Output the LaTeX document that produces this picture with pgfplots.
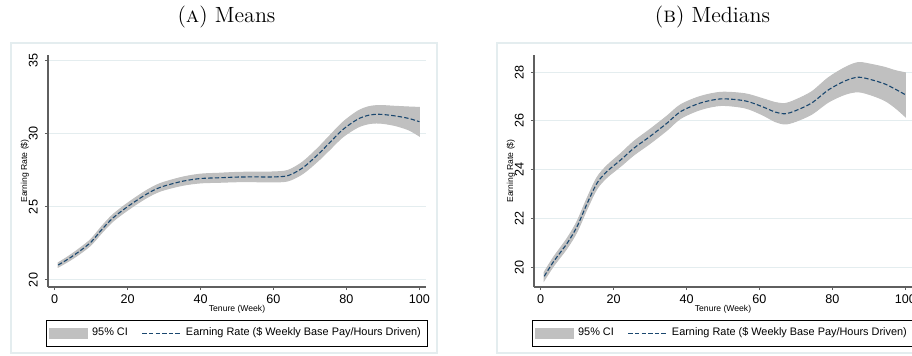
\documentclass[border=0pt]{standalone}
\usepackage{fontspec}
\newfontfamily\arial{Liberation Sans}
\usepackage{pgfplots}
\pgfplotsset{compat=1.18}
\usepackage{pgfplotstable}
\usepgfplotslibrary{fillbetween}

\definecolor{ciGray}{RGB}{192,192,192}
\definecolor{navy}{RGB}{26,71,111}
\definecolor{ltgrid}{RGB}{228,237,239}
\definecolor{axgray}{RGB}{95,95,95}

% week, estimate, half-width of 95% CI
\pgfplotstableread{
x y h
1 21.03 0.15
4 21.48 0.17
7 22.00 0.19
10 22.60 0.20
13 23.47 0.22
16 24.25 0.23
20 25.02 0.24
25 25.85 0.25
29 26.35 0.26
35 26.76 0.28
40 26.95 0.30
45 27.00 0.31
50 27.05 0.32
55 27.06 0.33
60 27.06 0.34
64 27.15 0.36
68 27.68 0.40
72 28.55 0.44
75 29.30 0.47
79 30.30 0.50
83 31.00 0.55
86 31.28 0.58
89 31.35 0.60
93 31.25 0.65
97 31.07 0.78
100 30.84 0.98
}\means

\pgfplotstableread{
x y h
1 19.62 0.17
3.6 20.23 0.18
7.3 20.98 0.20
10 21.66 0.21
12.8 22.62 0.22
15.5 23.45 0.23
18.2 23.92 0.24
22 24.40 0.26
25.6 24.88 0.28
30 25.36 0.29
34.7 25.91 0.29
38.4 26.38 0.28
43.8 26.73 0.27
49.5 26.90 0.27
56 26.82 0.29
60.6 26.59 0.33
64.3 26.36 0.39
67 26.29 0.42
69.8 26.41 0.44
74.3 26.73 0.46
78.9 27.27 0.50
83.5 27.64 0.55
87.1 27.79 0.60
90.8 27.68 0.63
94.4 27.51 0.68
97.2 27.30 0.76
100 27.07 0.90
}\medians

\pgfplotsset{stataax/.style={
  scale only axis, width=189pt, height=116pt,
  axis lines*=left,
  axis line style={axgray, line width=0.6pt},
  xmin=-1.8, xmax=101.8,
  xtick={0,20,...,100},
  tick align=outside, major tick length=1.6pt,
  tick style={axgray, line width=0.5pt},
  ymajorgrids, grid style={ltgrid, line width=0.5pt},
  /pgf/number format/assume math mode=true,
  ticklabel style={font=\arial\fontsize{6.3}{7}\selectfont},
  xticklabel style={yshift=1.5pt},
  yticklabel style={rotate=90, anchor=south},
  xlabel={Tenure (Week)}, ylabel={Earning Rate (\$)},
  label style={font=\arial\fontsize{4.3}{5}\selectfont},
  xlabel style={at={(axis description cs:0.5,-0.098)}, anchor=center},
  ylabel style={at={(axis description cs:-0.061,0.5)}, anchor=center},
  legend columns=2,
  legend style={at={(axis description cs:0.5,-0.142)}, anchor=north,
    draw=black, line width=0.5pt, font=\arial\fontsize{5.45}{6}\selectfont,
    inner xsep=1.2pt, inner ysep=1.7pt,
    /tikz/every even column/.append style={column sep=5pt}},
}}

\begin{document}
\begin{tikzpicture}
\draw[ltgrid, line width=0.6pt] (5.5pt,1pt) rectangle (218.5pt,156pt);
\draw[ltgrid, line width=0.6pt] (248.5pt,1pt) rectangle (461.5pt,156pt);
\node at (113.25pt,169pt) {\fontsize{11}{13}\selectfont (\textsc{a}) Means};
\node at (356.25pt,169pt) {\fontsize{11}{13}\selectfont (\textsc{b}) Medians};

\begin{axis}[stataax, at={(24pt,34pt)}, anchor=south west,
  ymin=19.52, ymax=35.41, ytick={20,25,30,35}]
  \addplot[draw=none, name path=up, forget plot, smooth] table[x=x, y expr=\thisrow{y}+\thisrow{h}] {\means};
  \addplot[draw=none, name path=lo, forget plot, smooth] table[x=x, y expr=\thisrow{y}-\thisrow{h}] {\means};
  \addplot[fill=ciGray, draw=ciGray, line width=0.5pt,
    legend image code/.code={\fill[ciGray] (0pt,-2.6pt) rectangle (19pt,2.6pt);}]
    fill between[of=up and lo];
  \addlegendentry{95\% CI}
  \addplot[navy, line width=0.55pt, dash pattern=on 2.2pt off 1.1pt, smooth,
    legend image code/.code={\draw[navy, line width=0.55pt, dash pattern=on 2.2pt off 1.1pt] (0pt,0pt) -- (19.5pt,0pt);}]
    table[x=x, y=y] {\means};
  \addlegendentry{Earning Rate (\$ Weekly Base Pay/Hours Driven)}
\end{axis}

\begin{axis}[stataax, at={(267pt,34pt)}, anchor=south west,
  ymin=19.18, ymax=28.70, ytick={20,22,24,26,28}]
  \addplot[draw=none, name path=up, forget plot, smooth] table[x=x, y expr=\thisrow{y}+\thisrow{h}] {\medians};
  \addplot[draw=none, name path=lo, forget plot, smooth] table[x=x, y expr=\thisrow{y}-\thisrow{h}] {\medians};
  \addplot[fill=ciGray, draw=ciGray, line width=0.5pt,
    legend image code/.code={\fill[ciGray] (0pt,-2.6pt) rectangle (19pt,2.6pt);}]
    fill between[of=up and lo];
  \addlegendentry{95\% CI}
  \addplot[navy, line width=0.55pt, dash pattern=on 2.2pt off 1.1pt, smooth,
    legend image code/.code={\draw[navy, line width=0.55pt, dash pattern=on 2.2pt off 1.1pt] (0pt,0pt) -- (19.5pt,0pt);}]
    table[x=x, y=y] {\medians};
  \addlegendentry{Earning Rate (\$ Weekly Base Pay/Hours Driven)}
\end{axis}
\pgfresetboundingbox
\path[use as bounding box] (0pt,0pt) rectangle (456pt,177.5pt);
\end{tikzpicture}
\end{document}
